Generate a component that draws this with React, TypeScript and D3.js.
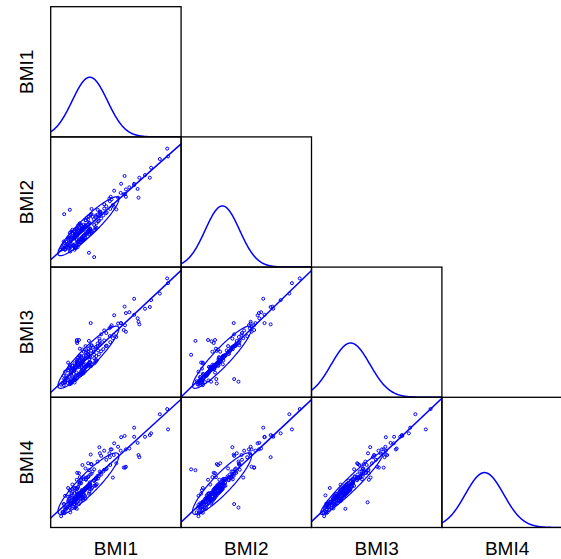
import React from 'react';
import * as d3 from 'd3';

const variables = ['BMI1', 'BMI2', 'BMI3', 'BMI4'];

const bmi1 = [
  18.4, 18.7, 19.4, 19.0, 20.2, 19.3, 20.8, 19.6, 21.1, 20.0,
  20.3, 21.5, 20.4, 21.8, 20.7, 22.0, 21.0, 20.6, 22.2, 21.4,
  21.2, 22.4, 21.6, 22.9, 21.5, 22.6, 21.9, 23.1, 22.0, 23.3,
  22.1, 23.0, 22.3, 23.5, 22.6, 23.8, 22.7, 23.4, 22.9, 24.0,
  23.1, 24.2, 23.3, 24.5, 23.6, 24.7, 23.9, 24.8, 24.0, 25.1,
  24.1, 25.3, 24.3, 25.5, 24.7, 26.0, 25.1, 26.3, 25.4, 26.6,
  25.9, 27.1, 26.4, 27.6, 26.8, 28.1, 27.5, 28.9, 28.3, 29.7,
  19.9, 19.8, 21.2, 20.7, 22.3, 21.7, 23.2, 22.8, 24.4, 24.1,
  20.5, 20.0, 21.6, 21.1, 22.5, 22.0, 23.5, 23.0, 24.8, 24.6,
  19.2, 21.3, 21.4, 22.2, 23.6, 23.1, 24.9, 25.0, 26.9, 27.3,
  19.0, 20.4, 20.1, 21.5, 21.0, 22.1, 21.5, 22.7, 22.0, 23.2,
  22.6, 23.7, 23.0, 24.1, 23.4, 24.5, 23.8, 25.1, 24.6, 26.0,
  21.3, 20.8, 22.9, 21.7, 23.9, 22.6, 24.9, 23.6, 26.3, 25.6,
  18.8, 19.4, 20.6, 20.5, 21.9, 21.4, 22.9, 22.3, 23.9, 23.5,
  20.6, 22.2, 21.8, 23.5, 23.2, 25.0, 24.8, 26.5, 26.4, 28.7,
  23.3, 24.6, 25.3, 22.5, 22.1, 22.7, 23.6, 24.1, 22.0, 20.0, 20.4, 19.3, 21.0, 24.0, 23.0,
  42.8, 41.1, 43.0, 39.1, 37.7, 38.8, 33.0, 35.2, 36.4, 36.2, 34.1, 33.3, 36.0, 32.2, 35.2, 30.6,
  33.1, 33.3, 32.1, 29.8, 29.5, 28.3, 30.5, 31.1, 27.3, 27.6, 25.4, 25.2, 27.2, 30.3, 32.8,
  28.8, 29.6, 31.5, 26.8, 30.0,
  19.1, 20.4, 22.0, 26.0, 24.8,
];

const bmi2 = [
  20.0, 20.6, 20.2, 21.0, 20.4, 21.5, 20.9, 21.8, 21.2, 22.3,
  23.1, 20.0, 23.9, 20.4, 24.2, 21.0, 24.6, 22.9, 20.6, 24.1,
  22.6, 21.9, 23.3, 22.2, 23.6, 22.4, 23.8, 22.7, 24.1, 22.5,
  24.9, 21.8, 25.6, 22.2, 25.8, 22.4, 26.1, 22.6, 25.7, 22.8,
  24.3, 23.7, 24.8, 24.0, 25.1, 24.2, 25.3, 24.5, 25.6, 24.7,
  26.8, 23.9, 27.3, 24.2, 27.6, 24.5, 27.9, 24.8, 28.2, 25.0,
  27.0, 26.7, 27.6, 27.2, 28.1, 27.9, 28.7, 28.6, 29.5, 29.4,
  20.5, 21.3, 21.0, 22.3, 21.9, 23.2, 22.9, 24.1, 23.8, 25.4,
  19.6, 22.6, 20.4, 23.7, 21.2, 24.6, 22.1, 25.6, 23.5, 27.0,
  20.1, 21.0, 22.6, 23.4, 23.2, 24.5, 24.6, 26.1, 26.5, 28.6,
  21.9, 19.8, 22.8, 20.6, 23.8, 21.2, 24.4, 21.8, 24.9, 22.3,
  24.0, 23.4, 24.6, 24.0, 24.9, 24.3, 25.3, 24.8, 25.9, 25.7,
  20.9, 22.9, 21.6, 23.8, 22.7, 24.9, 23.7, 25.8, 25.2, 27.6,
  20.2, 20.9, 20.6, 21.8, 21.5, 22.8, 22.5, 23.8, 23.5, 24.9,
  22.0, 21.9, 23.3, 23.2, 24.6, 24.9, 26.2, 26.1, 27.9, 28.4,
  24.5, 25.0, 24.2, 23.8, 23.5, 24.0, 23.2, 25.6, 22.2, 21.0, 20.8, 20.0, 22.7, 26.8, 24.8,
  43.3, 40.9, 41.5, 38.9, 37.2, 36.6, 37.0, 34.9, 36.6, 32.0, 34.4, 33.9, 34.0, 35.2, 35.2, 33.6,
  32.8, 32.2, 33.1, 32.2, 31.8, 30.5, 29.9, 29.3, 28.8, 28.2, 29.4, 28.1, 27.8, 30.3, 32.8,
  30.0, 31.2, 32.0, 29.2, 31.6,
  28.2, 29.2, 23.0, 18.3, 19.3,
];

const bmi3 = [
  18.9, 19.3, 19.8, 18.8, 20.7, 19.5, 19.4, 21.0, 20.6, 19.9,
  22.9, 19.4, 23.5, 20.1, 19.2, 23.8, 23.3, 19.6, 24.0, 20.2,
  22.3, 21.3, 22.8, 21.6, 22.5, 23.0, 21.7, 22.9, 23.4, 21.9,
  24.6, 21.2, 25.1, 21.5, 25.4, 21.9, 25.6, 22.1, 24.5, 22.9,
  23.8, 23.0, 24.2, 23.4, 24.6, 23.7, 24.9, 24.0, 23.6, 25.2,
  26.4, 23.2, 26.8, 23.6, 27.2, 23.8, 27.5, 24.1, 27.9, 24.5,
  26.5, 25.9, 27.2, 26.6, 27.8, 27.1, 28.4, 27.9, 29.1, 28.7,
  19.3, 20.6, 20.4, 21.7, 21.2, 22.7, 22.3, 23.8, 23.4, 25.0,
  19.7, 22.2, 20.6, 22.6, 21.3, 24.3, 21.7, 25.4, 23.4, 26.0,
  19.4, 21.4, 22.1, 22.9, 23.5, 23.3, 24.8, 25.5, 26.8, 28.1,
  21.0, 19.0, 22.3, 19.9, 23.2, 20.4, 23.8, 21.0, 24.2, 21.6,
  23.5, 22.7, 23.9, 23.2, 24.3, 23.6, 24.8, 24.1, 25.4, 25.0,
  20.0, 22.3, 21.2, 23.4, 22.1, 24.6, 23.2, 25.6, 24.6, 27.5,
  19.2, 20.1, 19.9, 21.3, 20.9, 22.4, 21.9, 23.4, 22.9, 24.4,
  21.5, 21.1, 22.9, 22.5, 24.2, 24.0, 25.8, 25.5, 27.6, 27.8,
  27.0, 26.5, 26.7, 29.2, 28.5, 27.2, 26.5, 25.5, 29.2, 24.0, 22.6, 21.9, 22.7, 27.8, 25.2,
  43.4, 39.9, 42.3, 38.4, 36.4, 36.8, 36.9, 38.7, 32.8, 33.4, 35.6, 35.4, 34.2, 33.1, 35.0, 34.9,
  32.6, 31.1, 33.1, 32.2, 31.9, 31.4, 30.4, 29.9, 29.0, 30.5, 28.0, 33.1, 29.5, 29.6, 31.5,
  30.8, 30.1, 33.0, 28.4, 32.6,
  20.2, 19.6, 28.9, 25.8, 29.0,
];

const bmi4 = [
  18.6, 19.5, 20.6, 19.4, 21.1, 20.2, 21.5, 20.4, 21.8, 22.0,
  22.6, 21.2, 23.1, 21.6, 23.4, 20.3, 24.9, 21.5, 23.8, 25.1,
  22.1, 23.4, 22.2, 23.8, 22.6, 23.9, 22.9, 23.3, 24.2, 23.0,
  25.0, 22.6, 25.3, 22.8, 26.0, 23.2, 26.3, 23.0, 26.8, 22.6,
  23.9, 25.0, 24.1, 25.2, 24.4, 25.6, 24.6, 25.9, 24.9, 25.4,
  27.0, 24.8, 27.5, 25.1, 27.8, 25.6, 28.2, 25.8, 28.4, 26.0,
  26.9, 27.8, 27.4, 28.2, 27.9, 28.9, 28.6, 29.6, 29.3, 30.4,
  20.8, 20.6, 22.0, 21.6, 23.1, 22.5, 24.0, 23.6, 25.1, 24.9,
  19.5, 23.1, 20.5, 24.3, 21.4, 25.2, 22.3, 26.2, 23.8, 27.6,
  19.3, 21.9, 22.4, 23.6, 23.7, 24.6, 25.0, 26.4, 27.3, 28.9,
  21.4, 20.5, 22.3, 21.3, 23.4, 21.9, 24.0, 22.6, 24.8, 23.1,
  23.4, 24.6, 23.9, 25.0, 24.3, 25.5, 24.9, 26.0, 25.6, 26.7,
  20.8, 23.9, 22.2, 25.0, 23.3, 26.3, 24.2, 27.2, 25.6, 28.9,
  19.6, 20.0, 21.5, 21.1, 22.6, 22.2, 23.7, 23.3, 24.7, 24.4,
  21.3, 22.8, 22.6, 24.1, 24.0, 25.8, 25.6, 27.2, 27.1, 29.4,
  30.4, 30.8, 30.6, 28.5, 28.6, 27.6, 27.6, 27.1, 27.0, 25.1, 24.6, 23.3, 25.9, 29.6, 27.0,
  43.3, 42.1, 38.6, 37.7, 36.9, 37.3, 37.1, 39.0, 32.2, 32.7, 34.2, 34.0, 35.5, 36.8, 36.9, 35.4,
  29.8, 30.0, 33.7, 34.0, 33.1, 33.7, 32.7, 30.8, 33.1, 32.5, 30.6, 32.8, 34.5, 27.5, 29.8,
  31.6, 32.2, 34.6, 31.2, 34.0,
  21.4, 20.6, 21.8, 29.4, 29.2,
];

const densityMean = [25.0, 25.5, 25.0, 25.8];
const densitySd = [4.05, 3.95, 4.45, 4.4];
const valueDomain: [number, number] = [16, 46];
const densityDomain: [number, number] = [0, 0.215];
const ellipseLevel = 0.68;

const BLUE = '#0000FF';

function mean(a: number[]) { return d3.mean(a) as number; }
function cov(a: number[], b: number[]) {
  const ma = mean(a), mb = mean(b);
  let s = 0;
  for (let i = 0; i < a.length; i++) s += (a[i] - ma) * (b[i] - mb);
  return s / (a.length - 1);
}

export default function App() {
  const data = [bmi1, bmi2, bmi3, bmi4];
  const W = 561, H = 559;
  const left = 50.7, top = 6.7, pw = 130.4, ph = 130.2;
  const n = variables.length;
  const panels: React.ReactNode[] = [];
  const radius = Math.sqrt(-2 * Math.log(1 - ellipseLevel));

  for (let i = 0; i < n; i++) {
    for (let j = 0; j <= i; j++) {
      const x0 = left + j * pw;
      const y0 = top + i * ph;
      const xs = d3.scaleLinear().domain(valueDomain).range([x0, x0 + pw]);
      const clipId = `clip-${i}-${j}`;
      const content: React.ReactNode[] = [];
      if (i === j) {
        const ys = d3.scaleLinear().domain(densityDomain).range([y0 + ph, y0]);
        const mu = densityMean[i], sd = densitySd[i];
        const grid = d3.range(0, 301).map(k => valueDomain[0] + (valueDomain[1] - valueDomain[0]) * k / 300);
        const line = d3.line<number>()
          .x(v => xs(v))
          .y(v => ys(Math.exp(-0.5 * ((v - mu) / sd) ** 2) / (sd * Math.sqrt(2 * Math.PI))));
        content.push(<path key="d" d={line(grid) || ''} fill="none" stroke={BLUE} strokeWidth={1.5} />);
      } else {
        const ys = d3.scaleLinear().domain(valueDomain).range([y0 + ph, y0]);
        const xv = data[j], yv = data[i];
        const mx = mean(xv), my = mean(yv);
        const sxx = cov(xv, xv), syy = cov(yv, yv), sxy = cov(xv, yv);
        const slope = sxy / sxx;
        const fx = (v: number) => my + slope * (v - mx);
        content.push(
          <line key="reg" x1={xs(valueDomain[0])} y1={ys(fx(valueDomain[0]))}
            x2={xs(valueDomain[1])} y2={ys(fx(valueDomain[1]))} stroke={BLUE} strokeWidth={1.5} />
        );
        const a = Math.sqrt(sxx), b = sxy / a, c = Math.sqrt(Math.max(syy - b * b, 0));
        const ts = d3.range(0, 201).map(k => (2 * Math.PI * k) / 200);
        const ell = d3.line<number>()
          .x(t => xs(mx + radius * a * Math.cos(t)))
          .y(t => ys(my + radius * (b * Math.cos(t) + c * Math.sin(t))));
        content.push(<path key="ell" d={ell(ts) || ''} fill="none" stroke={BLUE} strokeWidth={1.2} />);
        xv.forEach((v, k) => {
          content.push(
            <circle key={`p${k}`} cx={xs(v)} cy={ys(yv[k])} r={1.5} fill="none" stroke={BLUE} strokeWidth={1} />
          );
        });
      }
      panels.push(
        <g key={`${i}-${j}`}>
          <clipPath id={clipId}><rect x={x0} y={y0} width={pw} height={ph} /></clipPath>
          <g clipPath={`url(#${clipId})`}>{content}</g>
          <rect x={x0} y={y0} width={pw} height={ph} fill="none" stroke="#000" strokeWidth={1.3} />
        </g>
      );
    }
  }

  const font = '"Liberation Sans", Arial, Helvetica, sans-serif';
  return (
    <svg width={W} height={H} style={{ position: 'absolute', left: 0, top: 0, background: '#fff' }}
      xmlns="http://www.w3.org/2000/svg">
      <rect x={0} y={0} width={W} height={H} fill="#fff" />
      {panels}
      {variables.map((v, k) => (
        <text key={`xl${k}`} x={left + k * pw + pw / 2} y={554.5} textAnchor="middle"
          fontFamily={font} fontSize={19} fill="#000">{v}</text>
      ))}
      {variables.map((v, k) => (
        <text key={`yl${k}`} transform={`translate(32.5, ${top + k * ph + ph / 2}) rotate(-90)`}
          textAnchor="middle" fontFamily={font} fontSize={19} fill="#000">{v}</text>
      ))}
    </svg>
  );
}
